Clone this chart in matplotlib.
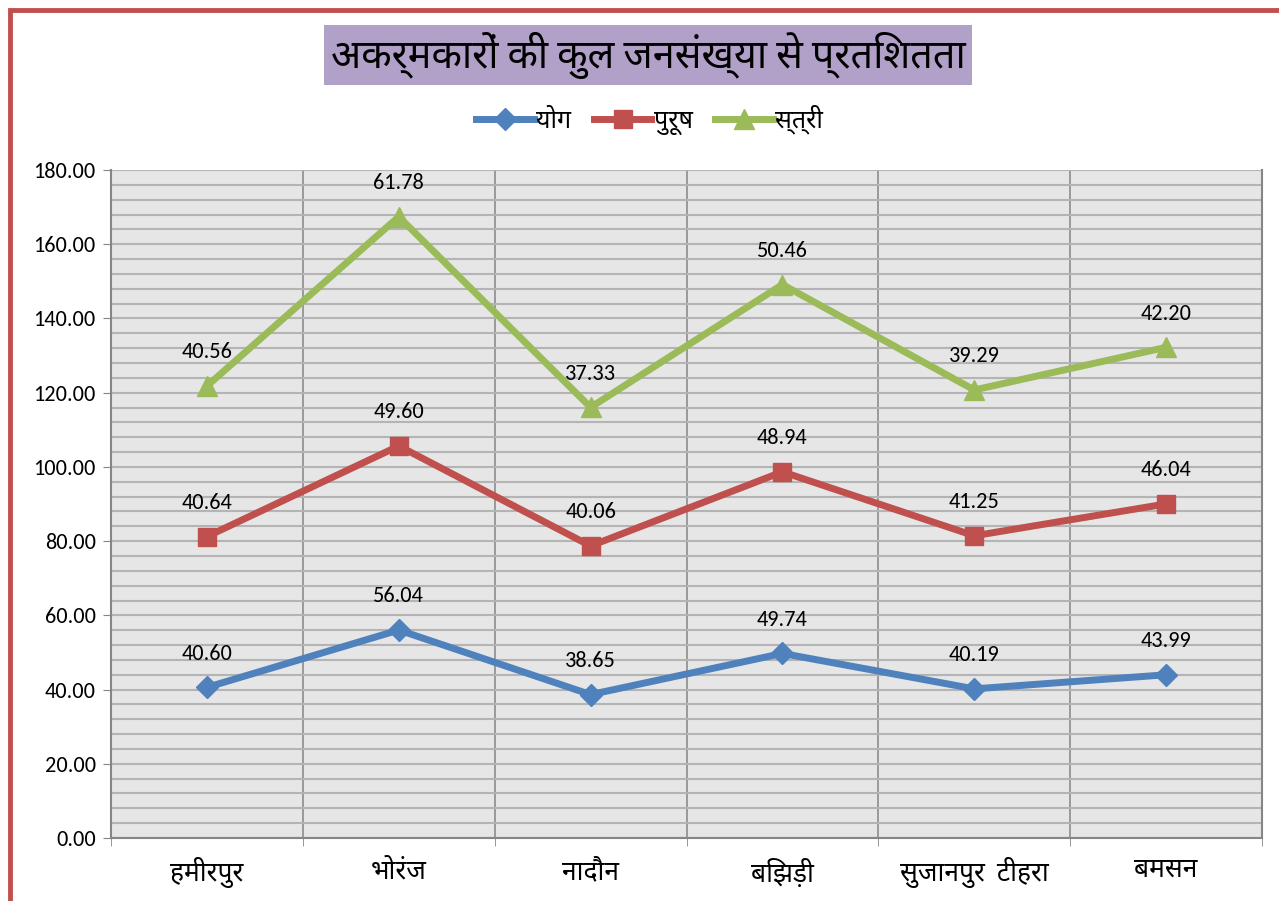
import matplotlib
matplotlib.use("Agg")
import matplotlib.pyplot as plt
from matplotlib.patches import Rectangle
import numpy as np

categories = ["हमीरपुर", "भोरंज", "नादौन", "बिझड़ी", "सुजानपुर  टीहरा", "बमसन"]
yog = [40.60, 56.04, 38.65, 49.74, 40.19, 43.99]
purush = [40.64, 49.60, 40.06, 48.94, 41.25, 46.04]
stri = [40.56, 61.78, 37.33, 50.46, 39.29, 42.20]
series_names = ["योग", "पुरूष", "स्त्री"]
title = "अकर्मकारों की कुल जनसंख्या से प्रतिशतता"

# Carlito for digits, Noto Sans Devanagari for the Hindi text
plt.rcParams["font.family"] = ["Carlito", "Noto Sans Devanagari", "DejaVu Sans"]

colors = ["#4F81BD", "#C0504D", "#9BBB59"]
markers = ["D", "s", "^"]
msizes = [11, 13, 14]

fig = plt.figure(figsize=(12.79, 9.01), dpi=100)
ax = fig.add_axes([0.0868, 0.0699, 0.8999, 0.7414])

x = np.arange(len(categories))
cum = np.zeros(len(categories))
for vals, name, c, m, ms in zip([yog, purush, stri], series_names, colors, markers, msizes):
    cum = cum + np.array(vals)
    ax.plot(x, cum, color=c, lw=5, marker=m, ms=ms, label=name, zorder=3)
    for xi, yi, v in zip(x, cum, vals):
        ax.annotate(f"{v:.2f}", (xi, yi), xytext=(0, 17), textcoords="offset points",
                    ha="center", va="bottom", fontsize=16, color="black")

ax.set_xlim(-0.5, len(categories) - 0.5)
ax.set_ylim(0, 180)
ax.set_facecolor("#E6E6E6")
ax.set_yticks(np.arange(0, 181, 20))
ax.set_yticklabels([f"{v:.2f}" for v in np.arange(0, 181, 20)], fontsize=16)
ax.set_yticks(np.arange(0, 181, 4), minor=True)
ax.tick_params(axis="y", which="minor", length=0)
ax.tick_params(axis="y", which="major", length=6, color="#868686", direction="out", pad=5)
ax.grid(True, axis="y", which="both", color="#B4B4B4", lw=1.5, zorder=1)

ax.set_xticks(x)
ax.set_xticklabels(categories, fontsize=19)
ax.tick_params(axis="x", which="major", length=0, pad=14)
ax.set_xticks(np.arange(-0.5, len(categories)), minor=True)
ax.tick_params(axis="x", which="minor", length=6, color="#868686", direction="out")
ax.grid(True, axis="x", which="minor", color="#8C8C8C", lw=1.2, zorder=1)
ax.set_axisbelow(True)
for s in ["left", "bottom", "right"]:
    ax.spines[s].set_color("#868686")
    ax.spines[s].set_linewidth(1.5)
ax.spines["top"].set_visible(False)

# title with purple box
fig.text(0.5067, 0.9389, title, ha="center", va="center", fontsize=28.5,
         bbox=dict(boxstyle="square,pad=0.17", facecolor="#B1A0C7", edgecolor="none"))

leg = fig.legend(loc="center", bbox_to_anchor=(0.508, 0.867), ncol=3, frameon=False,
                 fontsize=18, handlelength=2.3, columnspacing=0.9, handletextpad=0.1)

# red outer border, runs off the right and bottom edges like the reference
fig.patches.append(Rectangle((10 / 1279, -0.05), 1.1, 1 - 10 / 901 + 0.05, transform=fig.transFigure,
                             fill=False, edgecolor="#C0504D", lw=3.5))

fig.savefig("out.png", dpi=100)
